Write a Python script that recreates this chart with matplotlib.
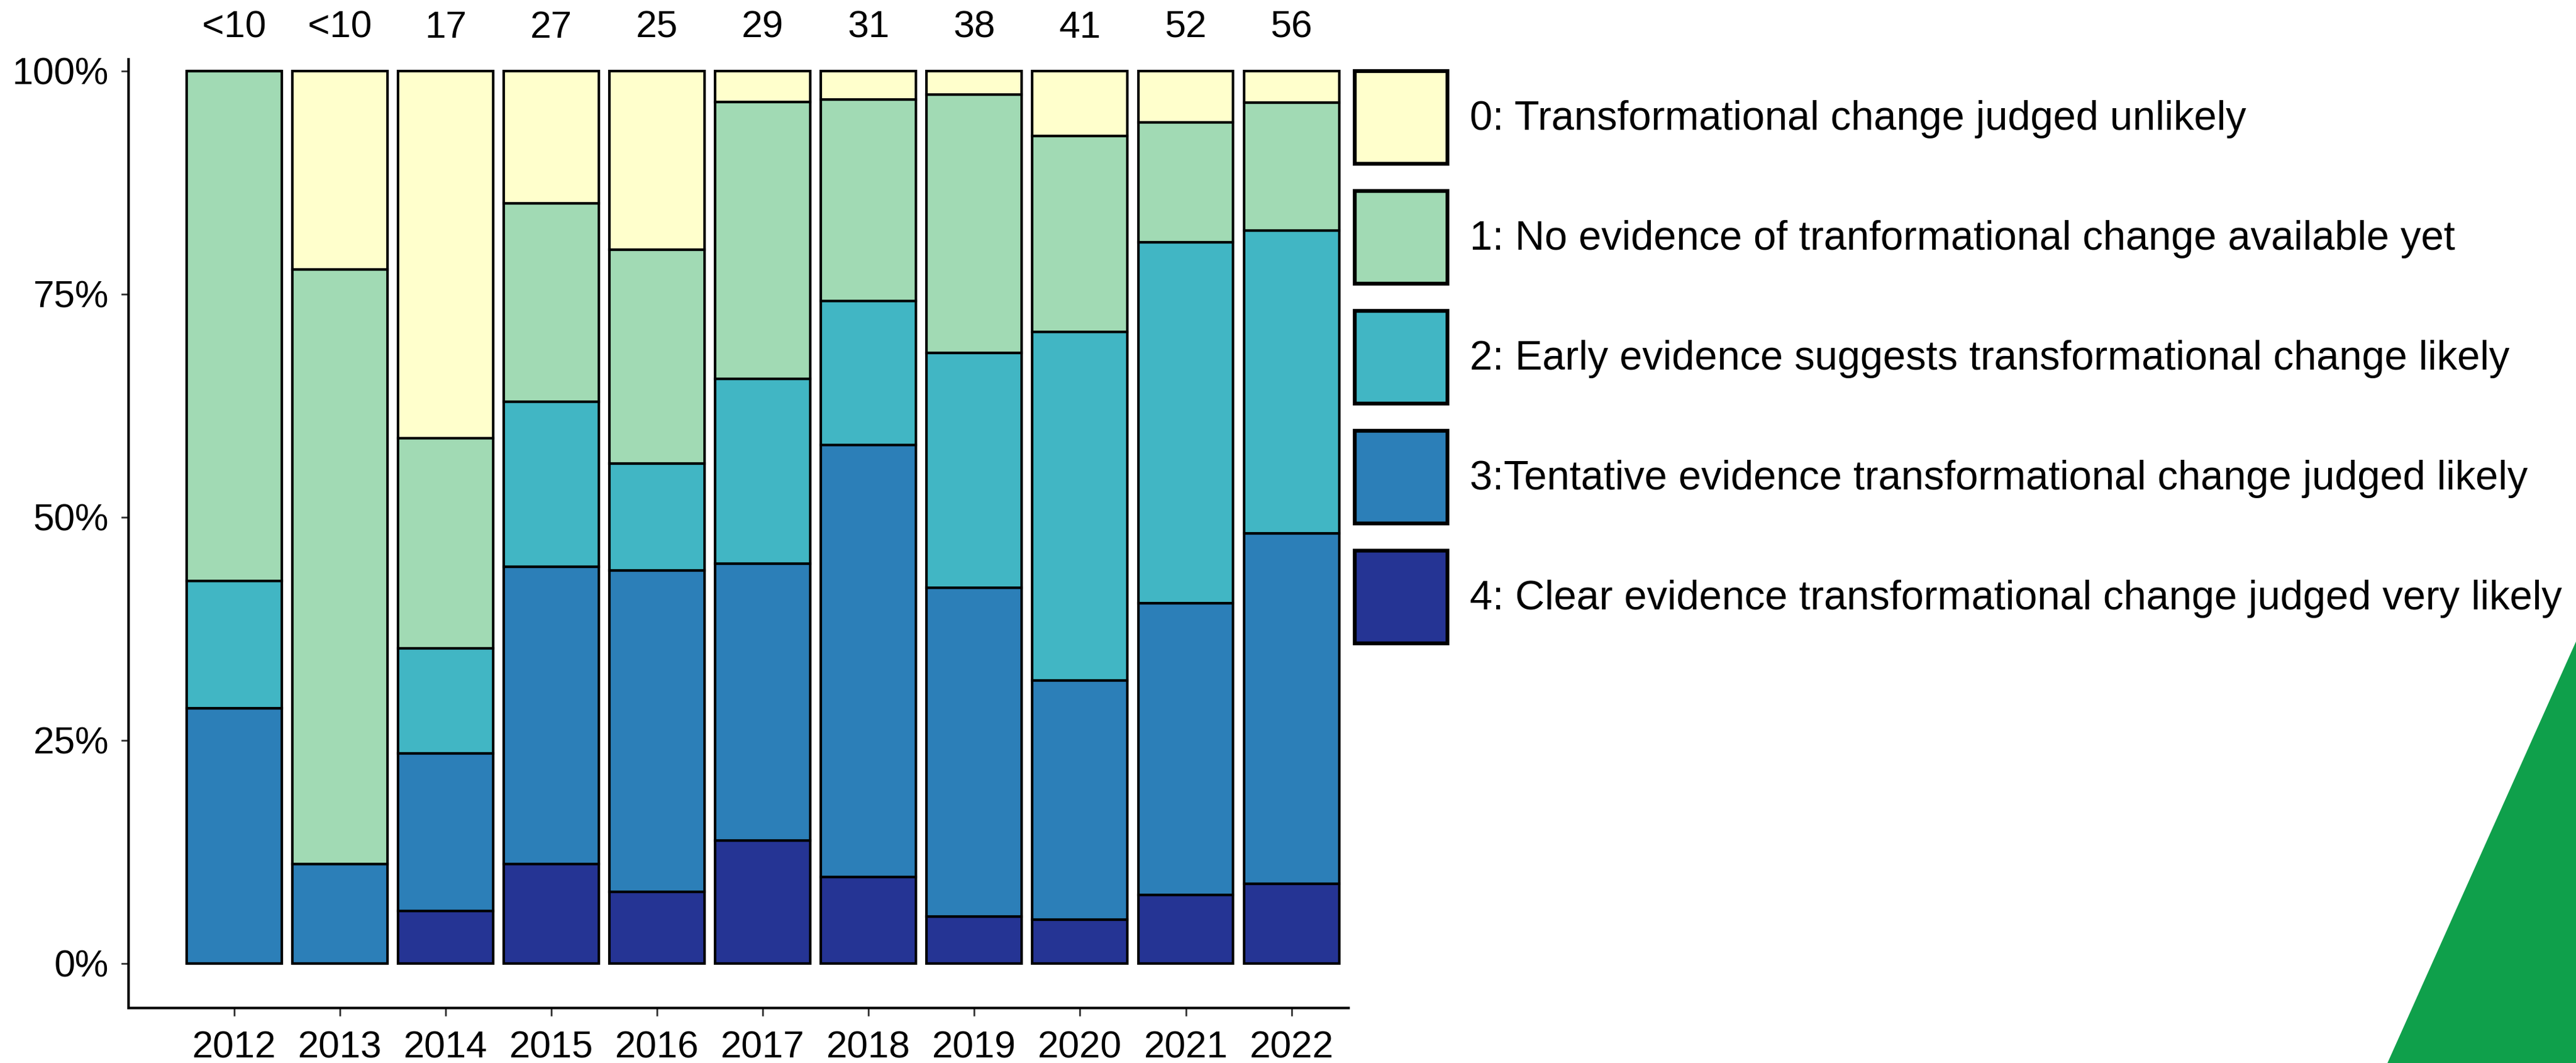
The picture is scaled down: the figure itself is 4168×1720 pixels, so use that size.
import numpy as np
import matplotlib
matplotlib.use("Agg")
import matplotlib.pyplot as plt
from matplotlib.patches import Polygon, Rectangle

plt.rcParams['font.family'] = ['Liberation Sans', 'DejaVu Sans']

# ---------------- DATA ----------------
years = ['2012', '2013', '2014', '2015', '2016', '2017', '2018', '2019', '2020', '2021', '2022']
n_labels = ['<10', '<10', '17', '27', '25', '29', '31', '38', '41', '52', '56']

# project counts per score
score4 = [0, 0, 1, 3, 2, 4, 3, 2, 2, 4, 5]
score3 = [2, 1, 3, 9, 9, 9, 15, 14, 11, 17, 22]
score2 = [1, 0, 2, 5, 3, 6, 5, 10, 16, 21, 19]
score1 = [4, 6, 4, 6, 6, 9, 7, 11, 9, 7, 8]
score0 = [0, 2, 7, 4, 5, 1, 1, 1, 3, 3, 2]

labels = [
    '0: Transformational change judged unlikely',
    '1: No evidence of tranformational change available yet',
    '2: Early evidence suggests transformational change likely',
    '3:Tentative evidence transformational change judged likely',
    '4: Clear evidence transformational change judged very likely',
]
colors = ['#FFFFCC', '#A1DAB4', '#41B6C4', '#2C7FB8', '#253494']

# ---------------- SHARES ----------------
counts = np.array([score0, score1, score2, score3, score4], dtype=float)
shares = counts / counts.sum(axis=0)

# ---------------- FIGURE ----------------
W, H = 4168, 1720
fig = plt.figure(figsize=(W / 100, H / 100), dpi=100)
ax = fig.add_axes([0.0499, 0.0517, 0.4736, 0.8925])

x = np.arange(len(years))
bottom = np.zeros(len(years))
# stack from score 4 (bottom) up to score 0 (top)
for i in range(4, -1, -1):
    ax.bar(x, shares[i], bottom=bottom, width=0.9, color=colors[i],
           edgecolor='black', linewidth=3)
    bottom += shares[i]

for xi, lab in zip(x, n_labels):
    ax.text(xi, 1.048, lab, ha='center', va='center', fontsize=44, clip_on=False)

ax.set_xlim(-1.0, len(years) - 0.46)
ax.set_ylim(-0.05, 1.013)
ax.set_xticks(x)
ax.set_xticklabels(years)
ax.set_yticks([0, 0.25, 0.5, 0.75, 1.0])
ax.set_yticklabels(['0%', '25%', '50%', '75%', '100%'])
ax.tick_params(axis='both', labelsize=44, length=9, width=2, color='#333333')
ax.tick_params(axis='x', pad=17)
ax.tick_params(axis='y', pad=14)

for side in ['top', 'right']:
    ax.spines[side].set_visible(False)
for side in ['left', 'bottom']:
    ax.spines[side].set_linewidth(3)

# ---------------- LEGEND (drawn by hand, pixel layout) ----------------
box_x, box_w, box_h = 2192, 150, 150
first_top, pitch = 115, 194
for k, (c, lab) in enumerate(zip(colors, labels)):
    top = first_top + k * pitch
    fig.patches.append(Rectangle((box_x / W, 1 - (top + box_h) / H), box_w / W, box_h / H,
                                 transform=fig.transFigure, facecolor=c,
                                 edgecolor='black', linewidth=4.5))
    fig.text(2378 / W, 1 - (top + box_h / 2 + 3) / H, lab, fontsize=47.6,
             ha='left', va='center')

# green corner triangle
fig.patches.append(Polygon([[3863 / W, 0], [1, 0], [1, 1 - 1038 / H]], closed=True,
                           transform=fig.transFigure, facecolor='#0FA04B', edgecolor='none'))

fig.savefig('out.png', dpi=100)
